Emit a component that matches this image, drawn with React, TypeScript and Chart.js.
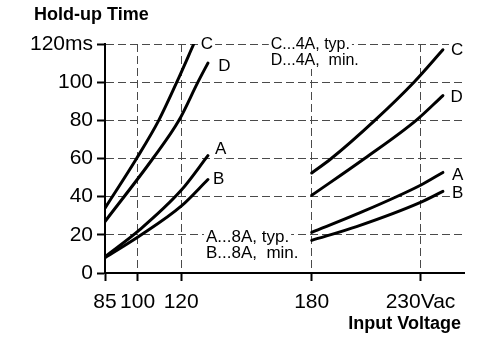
import { useEffect, useRef } from "react";
import { Chart, registerables } from "chart.js";

Chart.register(...registerables);

const FONT = '"Liberation Sans", Arial, Helvetica, sans-serif';

// Axis ticks
const voltageTicks = [85, 100, 120, 180, 230];
const timeTicks = [0, 20, 40, 60, 80, 100, 120];

// Curves: [input voltage (Vac), hold-up time (ms)], low-line and high-line ranges
const curveA_low = [[85, 8.5], [101, 22.7], [120, 43.3], [132.3, 61.5]];
const curveA_high = [[180, 21.3], [200.6, 30.8], [230, 46], [240.3, 52.7]];
const curveB_low = [[85, 8], [101, 19.5], [120, 35], [132.3, 49]];
const curveB_high = [[180, 17.1], [200.6, 24.3], [230, 37], [240.3, 42.8]];
const curveC_low = [[85, 34], [99.5, 60], [109.7, 80], [118, 100], [125.8, 120]];
const curveC_high = [[180, 52.4], [189, 60], [209, 80], [227, 100], [240.3, 117]];
const curveD_low = [[85, 27], [107, 60], [119, 80], [127.7, 100], [132.3, 110]];
const curveD_high = [[180, 40.7], [204.3, 60], [228, 80], [240.3, 93]];

const curveNames = ["A", "A", "B", "B", "C", "C", "D", "D"];
const curveSets = [curveA_low, curveA_high, curveB_low, curveB_high, curveC_low, curveC_high, curveD_low, curveD_high];

const noteUpper = ["C...4A, typ.", "D...4A,  min."];
const noteLower = ["A...8A, typ.", "B...8A,  min."];

const chartTitle = "Hold-up Time";
const xTitle = "Input Voltage";

// pixel nudges of the curve letters from each curve end
const letterOffsets = [
  [12.7, -7.5], [14.7, 1.3],
  [10.7, -1], [14.7, 0.8],
  [13.2, -0.8], [14.2, -1],
  [16.4, 2], [13.7, 0.7],
];

function textWithBackground(ctx: CanvasRenderingContext2D, text: string, x: number, y: number, align: CanvasTextAlign) {
  const w = ctx.measureText(text).width;
  const left = align === "center" ? x - w / 2 : align === "right" ? x - w : x;
  ctx.fillStyle = "#fff";
  ctx.fillRect(left - 2, y - 13, w + 4, 17);
  ctx.fillStyle = "#000";
  ctx.textAlign = align;
  ctx.fillText(text, x, y);
}

const labelsPlugin = {
  id: "labelsPlugin",
  afterDatasetsDraw(chart: any) {
    const ctx: CanvasRenderingContext2D = chart.ctx;
    const xs = chart.scales.x;
    const ys = chart.scales.y;
    ctx.save();
    ctx.textBaseline = "alphabetic";

    // curve letters
    ctx.font = `17px ${FONT}`;
    curveSets.forEach((_, i) => {
      const meta = chart.getDatasetMeta(i);
      const last = meta.data[meta.data.length - 1];
      const [dx, dy] = letterOffsets[i];
      textWithBackground(ctx, curveNames[i], last.x + dx, last.y + dy + 6, "center");
    });

    // notes
    ctx.font = `16px ${FONT}`;
    const ux = xs.getPixelForValue(161.2);
    const uy = ys.getPixelForValue(120) + 4.5;
    noteUpper.forEach((t, i) => textWithBackground(ctx, t, ux, uy + i * 16.5, "left"));
    ctx.font = `17px ${FONT}`;
    const lx = xs.getPixelForValue(131.4);
    const ly = ys.getPixelForValue(20) + 7.5;
    noteLower.forEach((t, i) => textWithBackground(ctx, t, lx, ly + i * 15.5, "left"));

    // titles
    ctx.font = `bold 18px ${FONT}`;
    ctx.fillStyle = "#000";
    ctx.textAlign = "left";
    ctx.fillText(chartTitle, 34, 20);
    ctx.textAlign = "right";
    ctx.fillText(xTitle, 461, 328.5);
    ctx.restore();
  },
};

export default function App() {
  const ref = useRef<HTMLCanvasElement>(null);

  useEffect(() => {
    const canvas = ref.current;
    if (!canvas) return;
    Chart.defaults.font.family = FONT;

    const datasets = curveSets.map((pts, i) => ({
      label: curveNames[i],
      data: pts.map(([x, y]) => ({ x, y })),
      borderColor: "#000",
      borderWidth: 3,
      borderCapStyle: "round" as const,
      pointRadius: 0,
      fill: false,
      cubicInterpolationMode: "monotone" as const,
    }));

    const gridStyle = {
      color: "#4a4a4a",
      lineWidth: 1,
      tickLength: 8,
      tickColor: "#000",
      tickWidth: 2,
      tickBorderDash: [],
    };
    const borderStyle = { display: true, color: "#000", width: 2, dash: [8, 4] };

    const chart = new Chart(canvas, {
      type: "line",
      data: { datasets },
      options: {
        animation: false,
        responsive: false,
        devicePixelRatio: 1,
        layout: { padding: { top: 44, right: 36, bottom: 0, left: 0 } },
        plugins: { legend: { display: false }, tooltip: { enabled: false }, title: { display: false } },
        scales: {
          x: {
            type: "linear",
            min: 85,
            max: 250,
            afterBuildTicks: (s: any) => {
              s.ticks = voltageTicks.map((v) => ({ value: v }));
            },
            afterFit: (s: any) => {
              s.height = 68;
            },
            ticks: {
              callback: (v: any) => (v === 230 ? "230Vac" : String(v)),
              color: "#000",
              font: { size: 21 },
              padding: 9,
              maxRotation: 0,
              autoSkip: false,
            },
            grid: gridStyle,
            border: borderStyle,
          },
          y: {
            type: "linear",
            min: 0,
            max: 120,
            afterBuildTicks: (s: any) => {
              s.ticks = timeTicks.map((v) => ({ value: v }));
            },
            afterFit: (s: any) => {
              s.width = 105;
            },
            ticks: {
              callback: (v: any) => (v === 120 ? "120ms" : String(v)),
              color: "#000",
              font: { size: 21 },
              padding: 4,
              autoSkip: false,
            },
            grid: gridStyle,
            border: borderStyle,
          },
        },
      },
      plugins: [labelsPlugin],
    });

    return () => chart.destroy();
  }, []);

  return (
    <div style={{ position: "fixed", left: 0, top: 0, width: 500, height: 341, background: "#fff" }}>
      <canvas ref={ref} width={500} height={341} style={{ display: "block" }} />
    </div>
  );
}
